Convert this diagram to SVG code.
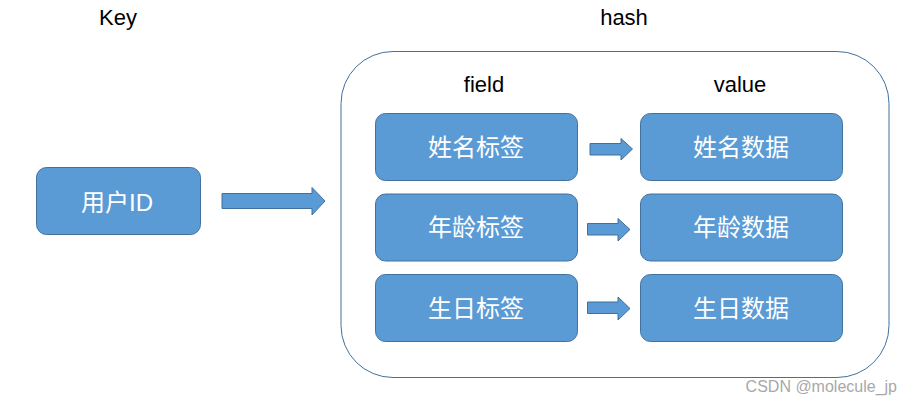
<svg xmlns="http://www.w3.org/2000/svg" width="913" height="405" viewBox="0 0 913 405">
<style>
.box{fill:#5B9BD5;stroke:#41719C;stroke-width:1}
.arrow{fill:#5B9BD5;stroke:#41719C;stroke-width:1}
.lbl{font-family:"Liberation Sans","Noto Sans CJK SC",sans-serif;font-size:24px;fill:#FFFFFF;text-anchor:middle;dominant-baseline:central}
.hdr{font-family:"Liberation Sans",Arial,sans-serif;font-size:22px;fill:#000000;text-anchor:middle}
</style>
<rect width="913" height="405" fill="#FFFFFF"/>
<text class="hdr" x="118" y="25">Key</text>
<text class="hdr" x="624" y="25">hash</text>
<g id="hash">
<rect x="341" y="51.5" width="548" height="326" rx="52" ry="52" fill="#FFFFFF" stroke="#41719C" stroke-width="1"/>
<text class="hdr" x="484" y="92">field</text>
<text class="hdr" x="740" y="92">value</text>
</g>
<g id="key-userid"><rect class="box" x="36.5" y="167.5" width="164" height="67" rx="10"/><text class="lbl" x="117" y="202">用户ID</text></g>
<g id="field-name"><rect class="box" x="375.5" y="113.5" width="202" height="67" rx="10"/><text class="lbl" x="476" y="147">姓名标签</text></g>
<g id="field-age"><rect class="box" x="375.5" y="194" width="202" height="67" rx="10"/><text class="lbl" x="476" y="227.5">年龄标签</text></g>
<g id="field-birth"><rect class="box" x="375.5" y="274.5" width="202" height="67" rx="10"/><text class="lbl" x="476" y="308">生日标签</text></g>
<g id="value-name"><rect class="box" x="640.5" y="113.5" width="202" height="67" rx="10"/><text class="lbl" x="741" y="147">姓名数据</text></g>
<g id="value-age"><rect class="box" x="640.5" y="194" width="202" height="67" rx="10"/><text class="lbl" x="741" y="227.5">年龄数据</text></g>
<g id="value-birth"><rect class="box" x="640.5" y="274.5" width="202" height="67" rx="10"/><text class="lbl" x="741" y="308">生日数据</text></g>
<g id="connectors">
<polygon class="arrow" points="222,193.5 312,193.5 312,187.5 325,201 312,215 312,208.5 222,208.5"/>
<polygon class="arrow" points="590,143.5 621,143.5 621,138.5 632.5,149 621,160 621,155 590,155"/>
<polygon class="arrow" points="587.5,223.5 618,223.5 618,218.5 630,229.5 618,241 618,235 587.5,235"/>
<polygon class="arrow" points="587.5,302 618,302 618,297 630,308.5 618,320 618,313.5 587.5,313.5"/>
</g>
<text x="897" y="392" font-family="Liberation Sans,Arial,sans-serif" font-size="16" fill="#A8A8A8" text-anchor="end">CSDN @molecule_jp</text>
</svg>
